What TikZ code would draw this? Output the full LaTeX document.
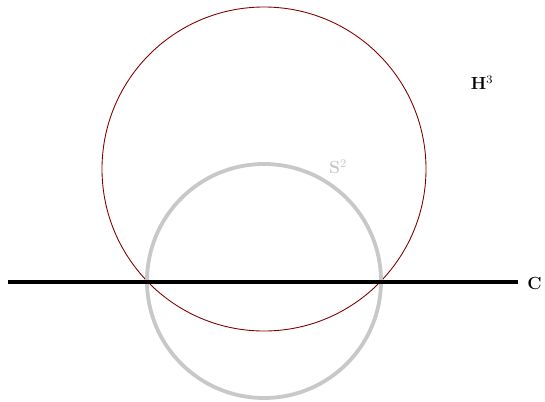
\documentclass[tikz,border=0pt]{standalone}
\usepackage{amsmath}
\usepackage{amssymb}
\usepackage{xcolor}
\definecolor{hypred}{RGB}{128,0,0}
\definecolor{spheregray}{RGB}{200,200,200}

\begin{document}
\begin{tikzpicture}[x=0.024cm,y=-0.024cm,font=\large]
  \useasboundingbox (0,0) rectangle (545,401);
  \draw[hypred,line width=0.6pt] (264,169) circle (162);
  \draw[spheregray,line width=2.6pt] (264,281) circle (117);
  \coordinate (cl) at (8,282);
  \coordinate (cr) at (518,282);
  \node[anchor=west,inner sep=0pt] (clabel) at (527,283) {$\mathbf{C}$};
  \draw[line width=2.7pt] (cl) -- (cr);
  \node (hlabel) at (482,83) {$\mathbf{H}^3$};
  \node[spheregray] (slabel) at (338,167) {$\mathbf{S}^2$};
\end{tikzpicture}
\end{document}
